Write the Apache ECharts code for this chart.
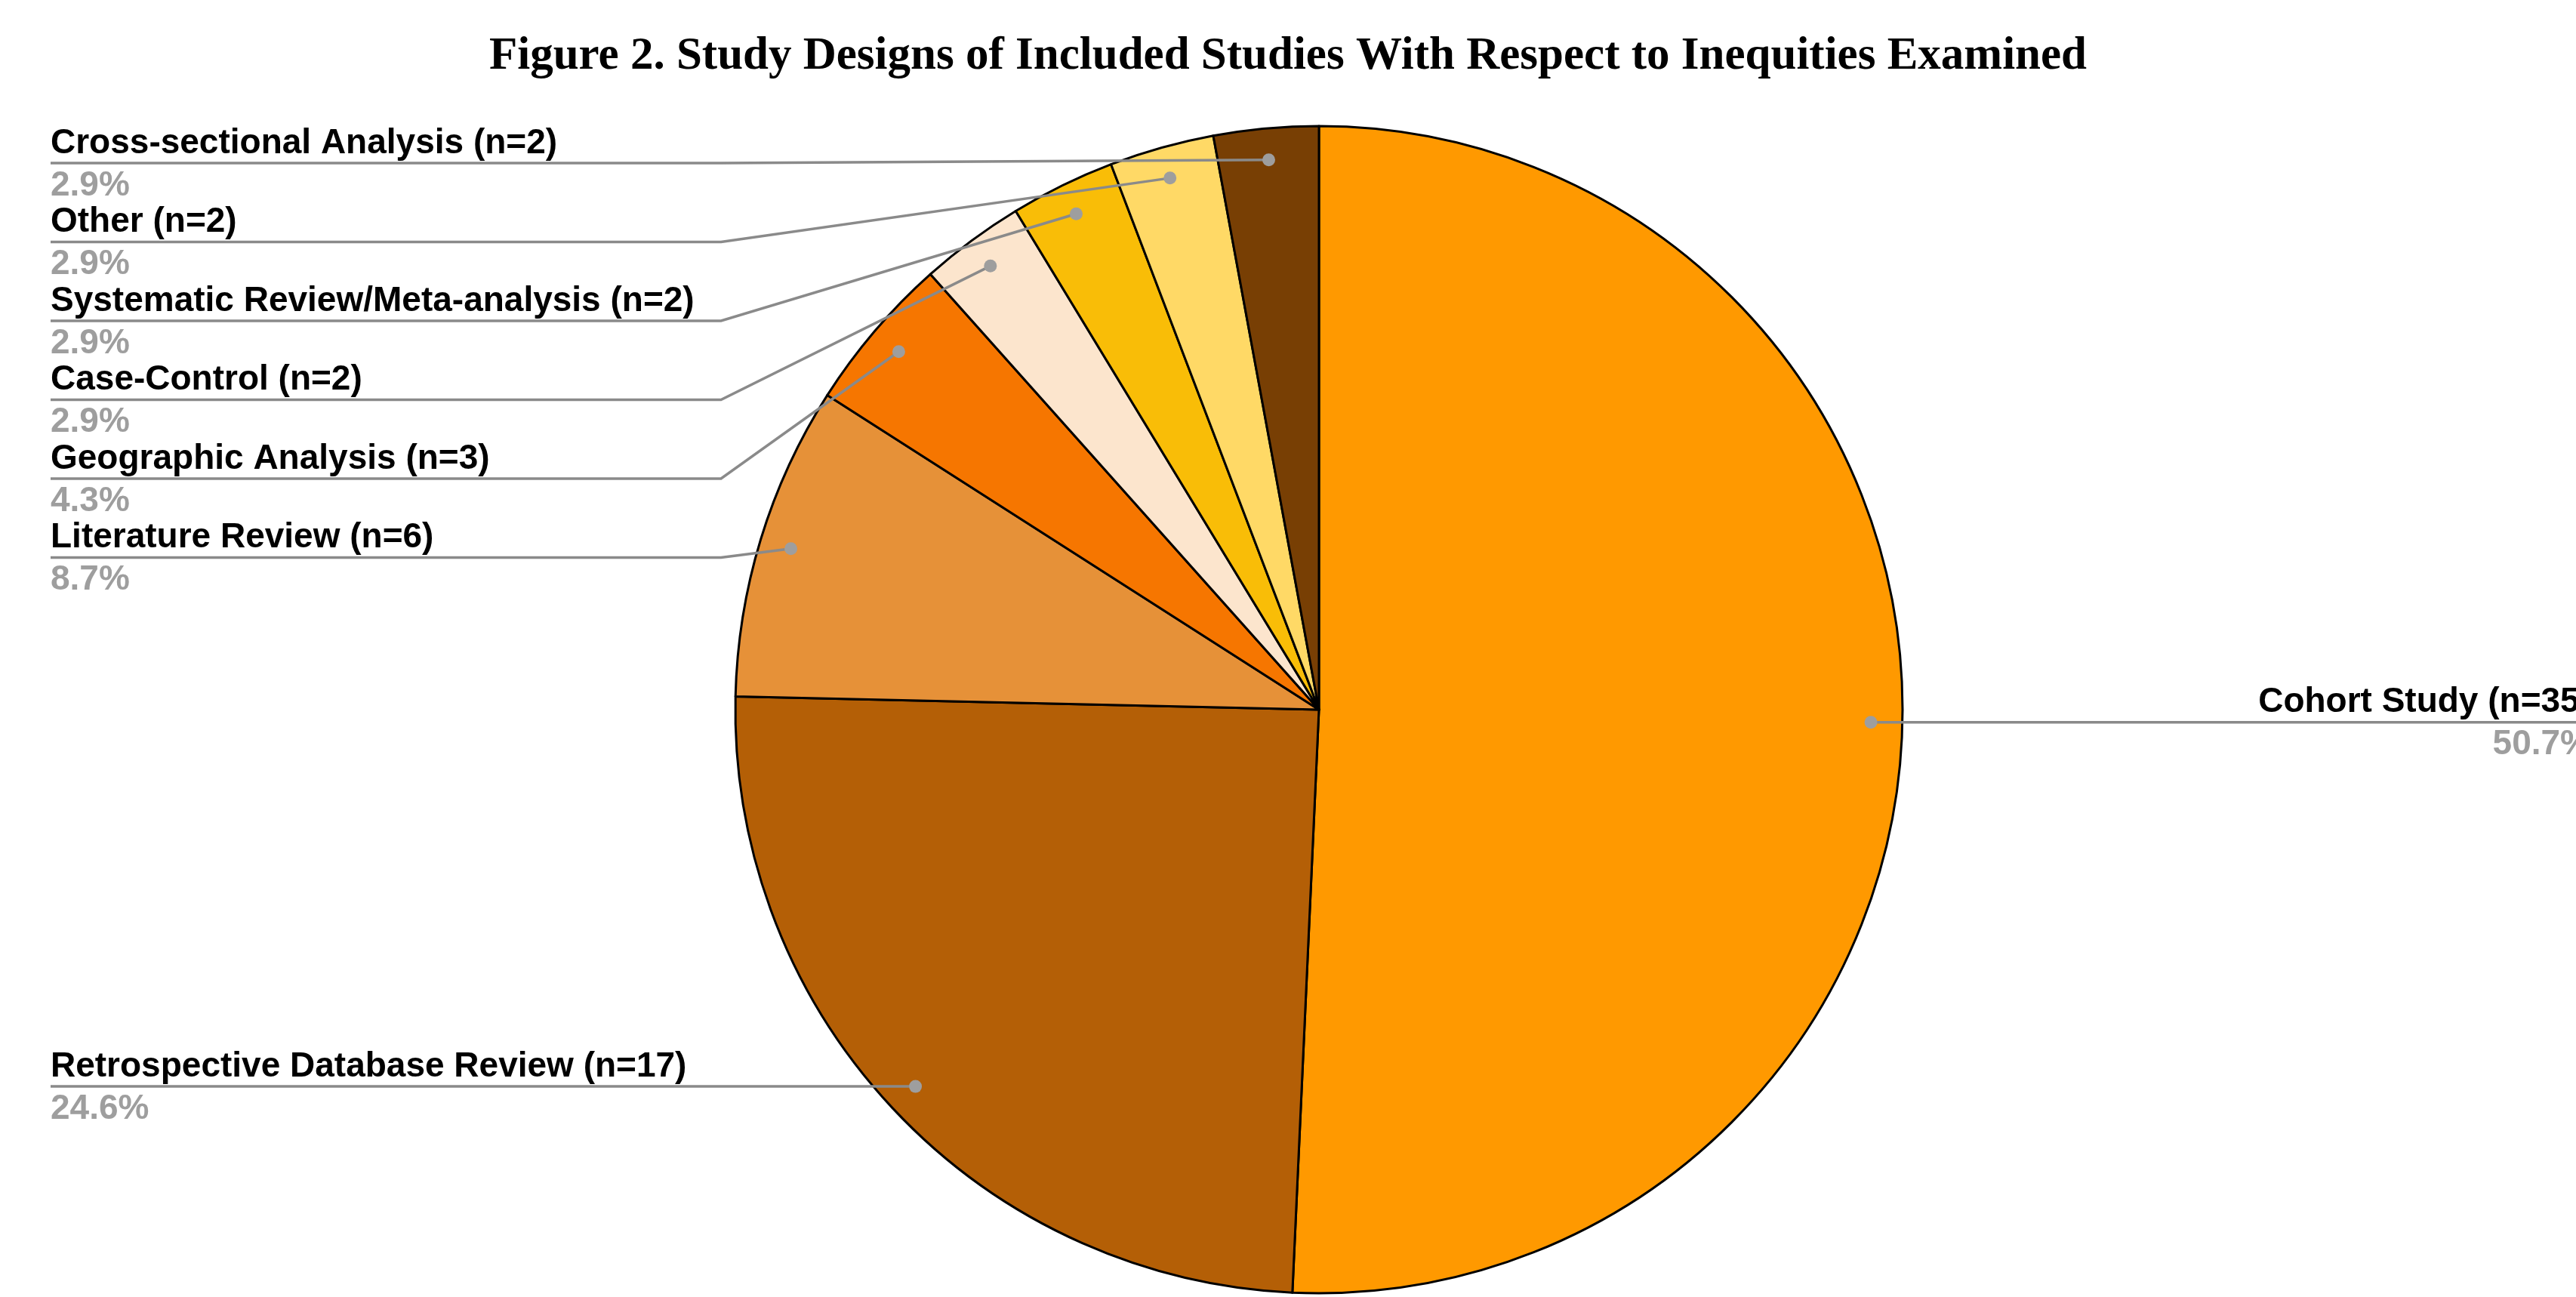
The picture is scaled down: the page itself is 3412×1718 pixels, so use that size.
<!DOCTYPE html>
<html>
<head>
<meta charset="utf-8">
<title>Study Designs of Included Studies</title>
<script src="https://cdn.jsdelivr.net/npm/echarts@6/dist/echarts.min.js"></script>
<style>
  html, body { margin: 0; padding: 0; background: #ffffff; }
  #chart { width: 3412px; height: 1718px; }
</style>
</head>
<body>
<div id="chart"></div>
<script>
// Study design categories, in clockwise order starting at 12 o'clock
const categories = [
  'Cohort Study',
  'Retrospective Database Review',
  'Literature Review',
  'Geographic Analysis',
  'Case-Control',
  'Systematic Review/Meta-analysis',
  'Other',
  'Cross-sectional Analysis'
];
// Number of studies per design
const counts = [35, 17, 6, 3, 2, 2, 2, 2];
// Slice colours
const sliceColors = ['#FF9900', '#B45F06', '#E69138', '#F67600', '#FCE5CD', '#F9BD07', '#FFD966', '#783F04'];

const total = counts.reduce((a, b) => a + b, 0);
const pct = v => (v / total * 100).toFixed(1) + '%';

// Geometry of the pie (pixels)
const CX = 1747, CY = 940, R = 773;
const DOT_R = 0.946;            // callout dots sit near the rim
const LEFT_X = 67, ELBOW_X = 955, RIGHT_X = 3432;
const ROW = 104.5, TOP_BOUND = 216;
const LINE_COLOR = '#8A8A8A', DOT_COLOR = '#9E9E9E';

// mid angle (in data units) of each slice
const mids = [];
let acc = 0;
counts.forEach(v => { mids.push(acc + v / 2); acc += v; });

function dotPos(i) {
  const t = mids[i] / total * Math.PI * 2;
  return [CX + R * DOT_R * Math.sin(t), CY - R * DOT_R * Math.cos(t)];
}

// Stack left-hand callouts so rows never overlap
const lineY = {};
const leftIdx = [], rightIdx = [];
counts.forEach((v, i) => { (dotPos(i)[0] < CX ? leftIdx : rightIdx).push(i); });
leftIdx.sort((a, b) => dotPos(a)[1] - dotPos(b)[1]);
let prev = -Infinity;
leftIdx.forEach(i => {
  const y = Math.max(dotPos(i)[1], prev + ROW, TOP_BOUND);
  lineY[i] = y; prev = y;
});
rightIdx.forEach(i => { lineY[i] = dotPos(i)[1]; });

const chart = echarts.init(document.getElementById('chart'));

chart.setOption({
  backgroundColor: '#ffffff',
  animation: false,
  title: {
    text: 'Figure 2. Study Designs of Included Studies With Respect to Inequities Examined',
    left: 'center',
    top: 40,
    textStyle: {
      fontFamily: 'Liberation Serif',
      fontWeight: 'bold',
      fontSize: 61,
      color: '#000000'
    }
  },
  polar: { center: [CX, CY], radius: R },
  angleAxis: { type: 'value', min: 0, max: total, startAngle: 90, clockwise: true, show: false },
  radiusAxis: { type: 'value', min: 0, max: 1, show: false },
  series: [
    {
      type: 'pie',
      center: [CX, CY],
      radius: R,
      startAngle: 90,
      clockwise: true,
      avoidLabelOverlap: false,
      silent: true,
      z: 2,
      itemStyle: { borderColor: '#000000', borderWidth: 3 },
      data: categories.map((name, i) => ({
        name: name,
        value: counts[i],
        itemStyle: { color: sliceColors[i] }
      })),
      label: {
        show: true,
        position: 'outer',
        formatter: p => '{n|' + p.name + ' (n=' + p.value + ')}\n{p|' + pct(p.value) + '}',
        rich: {
          n: { fontFamily: 'Liberation Sans', fontWeight: 'bold', fontSize: 46, color: '#000000', lineHeight: 60 },
          p: { fontFamily: 'Liberation Sans', fontWeight: 'bold', fontSize: 46, color: '#9E9E9E', lineHeight: 52 }
        }
      },
      labelLine: { show: false },
      labelLayout: function (params) {
        const i = params.dataIndex;
        const left = dotPos(i)[0] < CX;
        return {
          x: left ? LEFT_X : RIGHT_X,
          y: lineY[i],
          align: left ? 'left' : 'right',
          verticalAlign: 'middle'
        };
      }
    },
    {
      // callout leader lines and anchor dots, drawn above the slices
      type: 'custom',
      coordinateSystem: 'polar',
      silent: true,
      z: 5,
      data: mids.map((m, i) => [DOT_R, m, i]),
      renderItem: function (params, api) {
        const p = api.coord([api.value(0), api.value(1)]);
        const i = api.value(2);
        const y = lineY[i];
        const pts = p[0] < CX
          ? [p, [ELBOW_X, y], [LEFT_X, y]]
          : [p, [3412, y]];
        return {
          type: 'group',
          children: [
            {
              type: 'polyline',
              shape: { points: pts },
              style: { stroke: LINE_COLOR, lineWidth: 3.5, fill: null }
            },
            {
              type: 'circle',
              shape: { cx: p[0], cy: p[1], r: 8.5 },
              style: { fill: DOT_COLOR }
            }
          ]
        };
      }
    }
  ]
});
</script>
</body>
</html>
